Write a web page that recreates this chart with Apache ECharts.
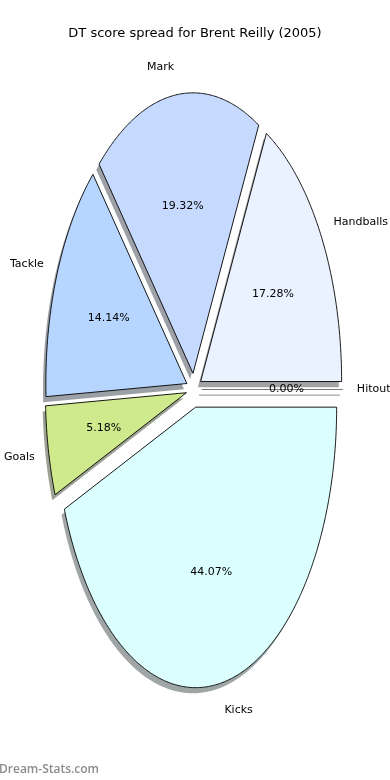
<!DOCTYPE html>
<html>
<head>
<meta charset="utf-8">
<script src="https://cdn.jsdelivr.net/npm/echarts@6/dist/echarts.min.js"></script>
<style>
html,body{margin:0;padding:0;background:#fff;}
#chart{width:390px;height:780px;}
</style>
</head>
<body>
<div id="chart"></div>
<script>
// ---- data ----
const chartTitle = 'DT score spread for Brent Reilly (2005)';
const categories = ['Handballs', 'Mark', 'Tackle', 'Goals', 'Kicks', 'Hitout'];
const values = [17.28, 19.32, 14.14, 5.18, 44.07, 0.00];
const colors = ['#eaf1ff', '#c6daff', '#b6d6ff', '#cfea8c', '#dbffff', '#ffffff'];
const watermark = 'Dream-Stats.com';

// ---- layout ----
const CX = 194, CY = 389.5, RX = 141, RY = 280.5;
const EXPLODE = [0.055, 0.058, 0.055, 0.055, 0.064, 0.055];
const LABEL_DIST = 1.1, PCT_DIST = 0.6;
const SHADOW_OX = -0.02, SHADOW_OY = -0.02;
const FONT = '11px "DejaVu Sans", sans-serif';

const total = values.reduce((a, b) => a + b, 0);
const starts = [];
let acc = 0;
values.forEach(v => { starts.push(acc); acc += v; });

function hexToRgb(h) {
  const n = parseInt(h.slice(1), 16);
  return [(n >> 16) & 255, (n >> 8) & 255, n & 255];
}

function wedgeGeom(i) {
  const t1 = starts[i] / total * 2 * Math.PI;
  const t2 = (starts[i] + values[i]) / total * 2 * Math.PI;
  const tm = (t1 + t2) / 2;
  const e = EXPLODE[i];
  const ox = CX + e * RX * Math.cos(tm);
  const oy = CY - e * RY * Math.sin(tm);
  const pts = [[ox, oy]];
  const steps = Math.max(2, Math.ceil((t2 - t1) / (Math.PI / 360)));
  for (let k = 0; k <= steps; k++) {
    const t = t1 + (t2 - t1) * k / steps;
    pts.push([ox + RX * Math.cos(t), oy - RY * Math.sin(t)]);
  }
  return { pts, tm, ox, oy };
}

const seriesData = categories.map((c, i) => ({ name: c, value: values[i] }));

function renderShadow(params, api) {
  const i = params.dataIndex;
  const g = wedgeGeom(i);
  const dx = SHADOW_OX * RX, dy = -SHADOW_OY * RY;
  const rgb = hexToRgb(colors[i]).map(v => Math.round(v * 0.3));
  return {
    type: 'polygon',
    shape: { points: g.pts.map(p => [p[0] + dx, p[1] + dy]) },
    style: { fill: 'rgba(' + rgb.join(',') + ',0.5)', stroke: values[i] === 0 ? 'rgba(' + rgb.join(',') + ',0.35)' : null, lineWidth: 1 }
  };
}

function renderWedge(params, api) {
  const i = params.dataIndex;
  const g = wedgeGeom(i);
  const c = Math.cos(g.tm), s = Math.sin(g.tm);
  const lx = g.ox + LABEL_DIST * RX * c, ly = g.oy - LABEL_DIST * RY * s;
  const px = g.ox + PCT_DIST * RX * c, py = g.oy - PCT_DIST * RY * s;
  return {
    type: 'group',
    children: [
      {
        type: 'polygon',
        shape: { points: g.pts },
        style: { fill: colors[i], stroke: values[i] === 0 ? '#777' : '#000', lineWidth: values[i] === 0 ? 1.2 : 0.9, lineJoin: 'miter' }
      },
      {
        type: 'text', x: lx, y: ly,
        style: { text: categories[i], font: FONT, fill: '#000', align: c > 0 ? 'left' : 'right', verticalAlign: 'middle' }
      },
      {
        type: 'text', x: px, y: py,
        style: { text: values[i].toFixed(2) + '%', font: FONT, fill: '#000', align: 'center', verticalAlign: 'middle' }
      }
    ]
  };
}

const chart = echarts.init(document.getElementById('chart'), null, { renderer: 'canvas' });
chart.setOption({
  animation: false,
  backgroundColor: '#fff',
  title: {
    text: chartTitle, left: 'center', top: 22,
    textStyle: { fontFamily: 'DejaVu Sans', fontSize: 13, fontWeight: 'normal', color: '#000' }
  },
  graphic: [{
    type: 'text', left: -1, top: 764,
    style: { text: watermark, font: '600 12px "Open Sans", sans-serif', fill: '#8c8c8c' }
  }],
  series: [
    { type: 'custom', coordinateSystem: 'none', silent: true, renderItem: renderShadow, data: seriesData, z: 1 },
    { type: 'custom', coordinateSystem: 'none', silent: true, renderItem: renderWedge, data: seriesData, z: 2 }
  ]
});
</script>
</body>
</html>
